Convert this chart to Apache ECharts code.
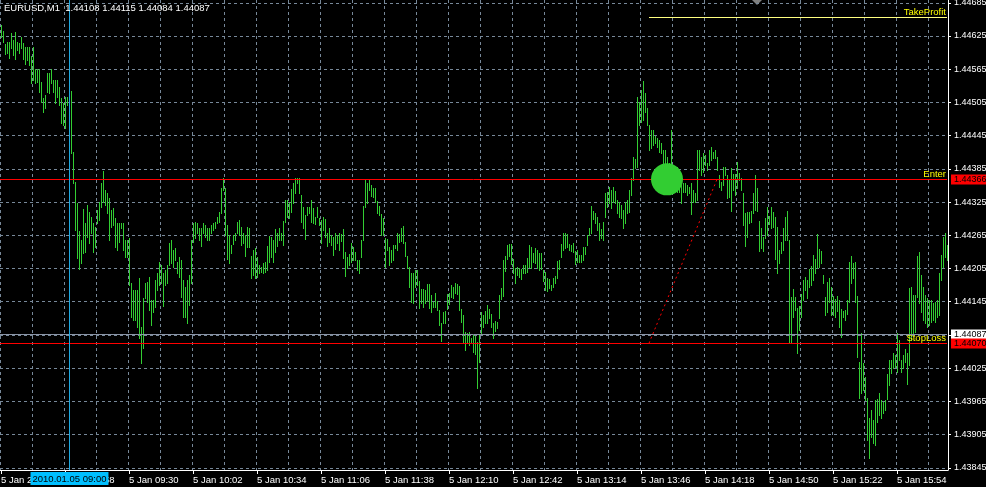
<!DOCTYPE html>
<html><head><meta charset="utf-8">
<script src="https://cdn.jsdelivr.net/npm/echarts@6/dist/echarts.min.js"></script>
<style>html,body{margin:0;padding:0;background:#000;}#c{width:986px;height:487px;}</style>
</head><body><div id="c"></div>
<script>
// ---- data (EURUSD M1, 5 Jan 2010) ----
const symbolName = 'EURUSD,M1';
const headerValues = ['1.44108', '1.44115', '1.44084', '1.44087'];
const startTime = '08:26';
const dayLabel = '5 Jan';
const firstLabel = '5 Jan 2010';
const barHigh = [
1.44645,1.44634,1.44611,1.44614,1.44614,1.44631,1.44618,1.44632,1.44614,1.44613,1.44623,1.44613,1.44605,1.44605,1.44605,1.44589,
1.44605,1.44566,1.44566,1.44566,1.44541,1.44513,1.44518,1.44559,1.44559,1.44566,1.44545,1.44545,1.44545,1.44532,1.44513,1.44504,
1.44514,1.44514,1.44523,1.44525,1.44415,1.44361,1.44324,1.44272,1.44256,1.44313,1.44288,1.44320,1.44307,1.44298,1.44288,1.44280,
1.44311,1.44325,1.44360,1.44381,1.44347,1.44342,1.44333,1.44311,1.44315,1.44297,1.44288,1.44288,1.44288,1.44288,1.44256,1.44256,
1.44260,1.44179,1.44166,1.44166,1.44166,1.44188,1.44099,1.44152,1.44179,1.44180,1.44189,1.44148,1.44148,1.44184,1.44197,1.44216,
1.44211,1.44197,1.44202,1.44211,1.44251,1.44256,1.44238,1.44242,1.44216,1.44225,1.44220,1.44184,1.44171,1.44184,1.44193,1.44256,
1.44288,1.44289,1.44288,1.44279,1.44279,1.44288,1.44284,1.44279,1.44279,1.44284,1.44288,1.44289,1.44298,1.44307,1.44351,1.44369,
1.44351,1.44284,1.44265,1.44247,1.44265,1.44270,1.44289,1.44293,1.44280,1.44269,1.44265,1.44280,1.44279,1.44227,1.44238,1.44242,
1.44225,1.44211,1.44207,1.44215,1.44216,1.44245,1.44263,1.44261,1.44256,1.44277,1.44269,1.44279,1.44269,1.44291,1.44329,1.44329,
1.44324,1.44349,1.44360,1.44369,1.44369,1.44369,1.44338,1.44316,1.44302,1.44316,1.44316,1.44329,1.44315,1.44298,1.44316,1.44297,
1.44293,1.44298,1.44295,1.44270,1.44279,1.44265,1.44261,1.44269,1.44265,1.44269,1.44267,1.44277,1.44234,1.44225,1.44231,1.44251,
1.44243,1.44234,1.44220,1.44220,1.44256,1.44318,1.44367,1.44360,1.44367,1.44356,1.44351,1.44351,1.44327,1.44318,1.44304,1.44297,
1.44260,1.44258,1.44243,1.44238,1.44247,1.44247,1.44269,1.44267,1.44279,1.44282,1.44252,1.44227,1.44207,1.44197,1.44197,1.44202,
1.44202,1.44182,1.44168,1.44168,1.44166,1.44177,1.44177,1.44157,1.44144,1.44161,1.44146,1.44130,1.44107,1.44126,1.44128,1.44159,
1.44161,1.44175,1.44171,1.44179,1.44177,1.44173,1.44132,1.44121,1.44090,1.44089,1.44090,1.44080,1.44085,1.44083,1.44072,1.44087,
1.44126,1.44121,1.44128,1.44139,1.44132,1.44123,1.44107,1.44110,1.44108,1.44157,1.44170,1.44220,1.44227,1.44247,1.44249,1.44249,
1.44222,1.44206,1.44207,1.44206,1.44204,1.44211,1.44211,1.44224,1.44247,1.44243,1.44233,1.44242,1.44238,1.44233,1.44233,1.44202,
1.44198,1.44188,1.44186,1.44175,1.44188,1.44191,1.44218,1.44220,1.44249,1.44269,1.44269,1.44267,1.44249,1.44247,1.44251,1.44236,
1.44238,1.44229,1.44229,1.44243,1.44243,1.44265,1.44279,1.44318,1.44309,1.44306,1.44298,1.44288,1.44277,1.44289,1.44342,1.44343,
1.44352,1.44347,1.44352,1.44345,1.44329,1.44325,1.44320,1.44311,1.44325,1.44329,1.44347,1.44369,1.44406,1.44403,1.44514,1.44505,
1.44527,1.44543,1.44522,1.44495,1.44464,1.44455,1.44455,1.44444,1.44441,1.44437,1.44432,1.44419,1.44419,1.44406,1.44396,1.44455,
1.44392,1.44388,1.44388,1.44383,1.44356,1.44360,1.44360,1.44356,1.44352,1.44360,1.44347,1.44342,1.44419,1.44419,1.44406,1.44414,
1.44410,1.44396,1.44419,1.44424,1.44415,1.44419,1.44406,1.44374,1.44361,1.44388,1.44388,1.44374,1.44365,1.44387,1.44376,1.44376,
1.44397,1.44378,1.44369,1.44342,1.44306,1.44307,1.44307,1.44309,1.44342,1.44374,1.44351,1.44291,1.44279,1.44261,1.44297,1.44316,
1.44300,1.44316,1.44307,1.44298,1.44280,1.44238,1.44252,1.44279,1.44298,1.44309,1.44256,1.44153,1.44168,1.44153,1.44134,1.44137,
1.44159,1.44184,1.44189,1.44184,1.44204,1.44209,1.44229,1.44222,1.44267,1.44240,1.44236,1.44193,1.44153,1.44180,1.44188,1.44171,
1.44155,1.44150,1.44155,1.44148,1.44132,1.44128,1.44130,1.44148,1.44216,1.44227,1.44215,1.44216,1.44155,1.44036,1.44089,1.44035,
1.44009,1.43971,1.43935,1.43949,1.43931,1.43967,1.43969,1.43980,1.43967,1.43963,1.43967,1.44015,1.44040,1.44040,1.44053,1.44049,
1.44089,1.44076,1.44040,1.44049,1.44060,1.44053,1.44170,1.44171,1.44157,1.44157,1.44227,1.44234,1.44193,1.44171,1.44157,1.44152,
1.44148,1.44148,1.44143,1.44144,1.44148,1.44197,1.44229,1.44261,1.44269,1.44247
];
const barLow = [
1.44623,1.44614,1.44593,1.44595,1.44586,1.44604,1.44591,1.44584,1.44600,1.44595,1.44604,1.44584,1.44575,1.44582,1.44573,1.44540,
1.44545,1.44540,1.44541,1.44523,1.44505,1.44487,1.44495,1.44523,1.44522,1.44540,1.44523,1.44504,1.44514,1.44500,1.44468,1.44464,
1.44459,1.44500,1.44504,1.44414,1.44360,1.44275,1.44224,1.44204,1.44215,1.44233,1.44234,1.44261,1.44251,1.44269,1.44234,1.44243,
1.44288,1.44293,1.44316,1.44325,1.44320,1.44306,1.44256,1.44280,1.44284,1.44243,1.44238,1.44252,1.44279,1.44238,1.44225,1.44225,
1.44175,1.44117,1.44112,1.44112,1.44099,1.44080,1.44035,1.44062,1.44152,1.44144,1.44130,1.44103,1.44126,1.44135,1.44166,1.44175,
1.44179,1.44137,1.44175,1.44179,1.44211,1.44215,1.44207,1.44220,1.44197,1.44189,1.44153,1.44117,1.44117,1.44107,1.44139,1.44179,
1.44252,1.44260,1.44269,1.44256,1.44245,1.44269,1.44261,1.44256,1.44256,1.44269,1.44275,1.44279,1.44288,1.44289,1.44306,1.44347,
1.44265,1.44222,1.44215,1.44233,1.44249,1.44256,1.44269,1.44265,1.44247,1.44251,1.44227,1.44243,1.44243,1.44188,1.44193,1.44188,
1.44189,1.44197,1.44198,1.44197,1.44198,1.44202,1.44216,1.44225,1.44216,1.44234,1.44245,1.44256,1.44256,1.44247,1.44289,1.44298,
1.44297,1.44307,1.44324,1.44342,1.44360,1.44342,1.44289,1.44279,1.44258,1.44302,1.44306,1.44289,1.44288,1.44286,1.44298,1.44284,
1.44251,1.44275,1.44261,1.44245,1.44252,1.44247,1.44229,1.44240,1.44251,1.44238,1.44254,1.44224,1.44191,1.44206,1.44211,1.44216,
1.44220,1.44220,1.44202,1.44197,1.44225,1.44256,1.44316,1.44324,1.44347,1.44336,1.44334,1.44325,1.44306,1.44302,1.44265,1.44265,
1.44207,1.44238,1.44211,1.44216,1.44220,1.44242,1.44238,1.44252,1.44254,1.44251,1.44227,1.44206,1.44171,1.44144,1.44143,1.44171,
1.44175,1.44134,1.44143,1.44135,1.44143,1.44146,1.44134,1.44126,1.44135,1.44135,1.44130,1.44103,1.44074,1.44107,1.44107,1.44132,
1.44141,1.44153,1.44152,1.44161,1.44159,1.44130,1.44108,1.44072,1.44058,1.44071,1.44067,1.44071,1.44054,1.44051,1.43990,1.44036,
1.44087,1.44099,1.44107,1.44107,1.44116,1.44099,1.44080,1.44092,1.44098,1.44116,1.44150,1.44155,1.44200,1.44222,1.44227,1.44213,
1.44197,1.44179,1.44193,1.44189,1.44186,1.44197,1.44197,1.44198,1.44207,1.44206,1.44216,1.44215,1.44206,1.44202,1.44204,1.44182,
1.44166,1.44164,1.44170,1.44166,1.44171,1.44179,1.44188,1.44204,1.44225,1.44238,1.44242,1.44243,1.44238,1.44236,1.44234,1.44213,
1.44216,1.44216,1.44216,1.44220,1.44231,1.44247,1.44265,1.44269,1.44295,1.44288,1.44275,1.44256,1.44260,1.44256,1.44298,1.44316,
1.44324,1.44315,1.44325,1.44324,1.44306,1.44298,1.44297,1.44279,1.44288,1.44306,1.44307,1.44338,1.44365,1.44387,1.44388,1.44464,
1.44469,1.44473,1.44487,1.44464,1.44419,1.44423,1.44428,1.44432,1.44424,1.44415,1.44414,1.44396,1.44392,1.44374,1.44365,1.44343,
1.44342,1.44365,1.44343,1.44343,1.44324,1.44343,1.44343,1.44338,1.44342,1.44304,1.44325,1.44325,1.44329,1.44383,1.44374,1.44379,
1.44392,1.44383,1.44392,1.44401,1.44405,1.44405,1.44383,1.44352,1.44347,1.44356,1.44374,1.44333,1.44334,1.44309,1.44347,1.44338,
1.44351,1.44365,1.44347,1.44284,1.44245,1.44261,1.44288,1.44289,1.44306,1.44311,1.44309,1.44236,1.44242,1.44236,1.44260,1.44265,
1.44286,1.44279,1.44280,1.44222,1.44197,1.44215,1.44233,1.44238,1.44256,1.44256,1.44071,1.44071,1.44117,1.44130,1.44053,1.44094,
1.44117,1.44148,1.44166,1.44152,1.44171,1.44175,1.44184,1.44197,1.44206,1.44207,1.44215,1.44179,1.44121,1.44126,1.44144,1.44121,
1.44121,1.44117,1.44128,1.44099,1.44081,1.44117,1.44112,1.44123,1.44144,1.44179,1.44188,1.44144,1.44045,1.43971,1.43980,1.43985,
1.43967,1.43895,1.43863,1.43900,1.43890,1.43886,1.43927,1.43940,1.43935,1.43944,1.43949,1.43969,1.43994,1.44017,1.44026,1.44027,
1.44018,1.44040,1.44018,1.44026,1.44036,1.43997,1.44031,1.44076,1.44089,1.44090,1.44153,1.44143,1.44126,1.44112,1.44107,1.44099,
1.44103,1.44108,1.44112,1.44108,1.44117,1.44121,1.44184,1.44207,1.44225,1.44220
];
const priceTicks = [1.43845,1.43905,1.43965,1.44025,1.44085,1.44145,1.44205,1.44265,1.44325,1.44385,1.44445,1.44505,1.44565,1.44625,1.44685];
const priceMin = 1.43841, priceMax = 1.44690;
const enterPrice = 1.44366;
const stopLossPrice = 1.44070;
const bidPrice = 1.44087;
const takeProfitPrice = 1.44660;
const takeProfitFrom = '13:50';
const cursorTime = '09:00';
const cursorLabel = '2010.01.05 09:00';
const entryTime = '13:59';
const trendFrom = ['13:50', 1.44070];
const trendTo = ['14:24', 1.44366];
const levelValues = [bidPrice, stopLossPrice, enterPrice, takeProfitPrice];
const levelCaptions = ['', 'StopLoss', 'Enter', 'TakeProfit'];

// ---- build categories (one per minute) ----
const times = [];
(function(){
  let [h, m] = startTime.split(':').map(Number);
  for (let i = 0; i < barHigh.length; i++) {
    times.push(String(h).padStart(2,'0') + ':' + String(m).padStart(2,'0'));
    m++; if (m === 60) { m = 0; h++; }
  }
})();

const FONT = '"Liberation Sans"';
const barColor = '#32CD32';
const gridColor = '#778899';
const levelStyles = [
  {line: '#8a94a6', tagBg: '#ffffff', tag: true, startAt: null},
  {line: '#ff0000', tagBg: '#ff0000', tag: true, startAt: null},
  {line: '#ff0000', tagBg: '#ff0000', tag: true, startAt: null},
  {line: '#ffff80', tagBg: null, tag: false, startAt: takeProfitFrom}
];

const chart = echarts.init(document.getElementById('c'), null, {renderer: 'canvas'});
chart.setOption({
  backgroundColor: '#000000',
  animation: false,
  textStyle: {fontFamily: FONT},
  title: {
    text: symbolName + '  ' + headerValues.join(' '),
    left: 4, top: 3, padding: 0,
    textStyle: {color: '#ffffff', fontSize: 9.5, fontWeight: 'normal', fontFamily: FONT}
  },
  graphic: [{
    type: 'polygon', silent: true,
    shape: {points: [[752, 0], [762, 0], [757, 5]]},
    style: {fill: '#808080'}
  }],
  grid: {left: 0, top: 0, right: 38, bottom: 17, outerBoundsMode: 'none', containLabel: false},
  xAxis: {
    type: 'category', data: times, boundaryGap: true,
    axisLine: {show: true, lineStyle: {color: '#ffffff', width: 1}},
    axisTick: {show: true, alignWithLabel: true, interval: 31, length: 4, lineStyle: {color: '#ffffff'}},
    axisLabel: {
      show: true, interval: 31, color: '#ffffff', fontSize: 9.5, fontFamily: FONT, align: 'left', margin: 5,
      formatter: (v, i) => i === 0 ? firstLabel : dayLabel + ' ' + v
    },
    splitLine: {show: true, interval: 15, lineStyle: {color: gridColor, type: [3, 3], width: 1}}
  },
  yAxis: {
    type: 'value', position: 'right', min: priceMin, max: priceMax, scale: true,
    axisLine: {show: true, lineStyle: {color: '#ffffff', width: 1}},
    axisTick: {show: true, length: 3, lineStyle: {color: '#ffffff'}, customValues: priceTicks},
    axisLabel: {
      show: true, color: '#ffffff', fontSize: 9, fontFamily: FONT, margin: 6,
      customValues: priceTicks.filter(v => Math.abs(v - bidPrice) > 0.0001),
      formatter: v => v.toFixed(5)
    },
    splitLine: {show: true, lineStyle: {color: gridColor, type: [3, 3], width: 1}}
  },
  series: [
    {
      type: 'custom', name: 'bars',
      data: barHigh.map((h, i) => [i, h, barLow[i]]),
      encode: {x: 0, y: [1, 2]},
      renderItem: (params, api) => {
        const i = api.value(0);
        const top = api.coord([i, api.value(1)]);
        const bot = api.coord([i, api.value(2)]);
        const x = Math.round(top[0]) + 0.5;
        return {
          type: 'line',
          shape: {x1: x, y1: Math.round(top[1]), x2: x, y2: Math.round(bot[1]) + 1},
          style: {stroke: barColor, lineWidth: 1}
        };
      },
      z: 3,
      markLine: {
        silent: true, symbol: ['none', 'none'], animation: false,
        data: [
          [{coord: trendFrom, lineStyle: {color: '#ff0000', type: [2, 3], width: 1}, label: {show: false}},
           {coord: trendTo}]
        ]
      }
    },
    {
      type: 'custom', name: 'levels', clip: false,
      data: levelValues.map((v, i) => [i, v]),
      encode: {x: 0, y: 1},
      renderItem: (params, api) => {
        const k = api.value(0);
        const price = api.value(1);
        const st = levelStyles[k];
        const cs = params.coordSys;
        const y = Math.round(api.coord([0, price])[1]) + 0.5;
        const x2 = cs.x + cs.width - 1;
        const x1 = st.startAt ? Math.round(api.coord([times.indexOf(st.startAt), price])[0]) : cs.x;
        const children = [{
          type: 'line', shape: {x1: x1, y1: y, x2: x2, y2: y},
          style: {stroke: st.line, lineWidth: 1}
        }];
        if (levelCaptions[k]) {
          children.push({
            type: 'text', x: x2 - 1, y: y,
            style: {text: levelCaptions[k], fill: '#ffff00', font: '9.5px ' + FONT,
                    align: 'right', verticalAlign: 'bottom'}
          });
        }
        if (st.tag) {
          children.push({
            type: 'text', x: cs.x + cs.width + 3, y: y,
            style: {text: price.toFixed(5), fill: '#000000', font: '9px ' + FONT,
                    align: 'left', verticalAlign: 'middle', backgroundColor: st.tagBg, padding: [1, 4, 0, 3]}
          });
        }
        return {type: 'group', children: children};
      },
      z: 5
    },
    {
      type: 'custom', name: 'cursor', clip: false,
      data: [[times.indexOf(cursorTime), priceMin]],
      encode: {x: 0, y: 1},
      renderItem: (params, api) => {
        const cs = params.coordSys;
        const x = Math.round(api.coord([api.value(0), api.value(1)])[0]) + 0.5;
        return {type: 'group', children: [
          {type: 'line', shape: {x1: x, y1: cs.y, x2: x, y2: cs.y + cs.height}, style: {stroke: '#1fa8e0', lineWidth: 1}},
          {type: 'text', x: x, y: cs.y + cs.height + 2,
           style: {text: cursorLabel, fill: '#000000', font: '9.5px ' + FONT, align: 'center',
                   verticalAlign: 'top', backgroundColor: '#00bfff', padding: [2, 2, 1, 2]}}
        ]};
      },
      z: 6
    },
    {
      type: 'scatter', name: 'entry',
      data: [[entryTime, enterPrice]],
      symbol: 'circle', symbolSize: 32,
      itemStyle: {color: '#32CD32', opacity: 1},
      z: 7, silent: true
    }
  ]
});
</script>
</body></html>
